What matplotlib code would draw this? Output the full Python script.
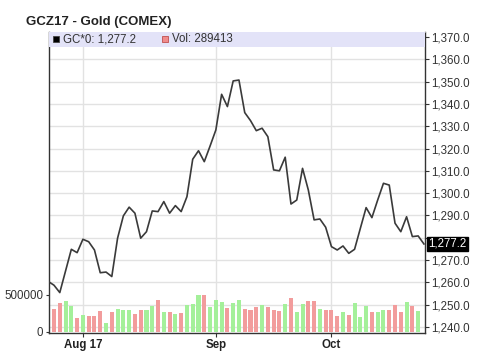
import numpy as np
import pandas as pd
import matplotlib
matplotlib.use("Agg")
import matplotlib.pyplot as plt
from matplotlib.patches import Rectangle
from matplotlib.ticker import FixedLocator, FixedFormatter

plt.rcParams['font.family'] = ['Liberation Sans', 'DejaVu Sans']

# ---------------- data ----------------
title = "GCZ17 - Gold (COMEX)"
symbol = "GC*0"
last_volume = 289413

# trading days (Labor Day closed)
days = pd.bdate_range("2017-07-24", "2017-10-24", freq="C", holidays=["2017-09-04"])

prices = [1260.4, 1258.7, 1255.4, 1265.1, 1274.8, 1273.3, 1279.3, 1278.2, 1274.5, 1264.3,
          1264.6, 1262.6, 1279.8, 1289.8, 1293.7, 1291.0, 1279.8, 1282.7, 1292.0, 1291.7,
          1296.2, 1291.0, 1294.4, 1291.7, 1298.4, 1315.2, 1319.0, 1314.1, 1321.1, 1328.3,
          1344.3, 1338.8, 1350.3, 1350.7, 1336.1, 1332.5, 1328.0, 1329.1, 1325.3, 1310.4,
          1310.0, 1316.1, 1295.1, 1296.9, 1311.1, 1301.4, 1288.0, 1288.4, 1284.7, 1276.0,
          1274.5, 1276.3, 1273.0, 1274.8, 1284.2, 1293.5, 1289.0, 1296.9, 1304.4, 1303.6,
          1286.5, 1282.7, 1289.4, 1280.5, 1280.8, 1277.2]

# volume for days[1] .. days[64]
volume_k = [309, 386, 414, 355, 186, 232, 218, 218, 286, 123,
            264, 314, 291, 291, 245, 300, 300, 355, 432, 268,
            268, 241, 259, 368, 373, 500, 505, 332, 427, 405,
            323, 391, 427, 314, 300, 332, 359, 332, 291, 286,
            377, 459, 268, 377, 423, 414, 305, 295, 295, 218,
            268, 232, 386, 195, 345, 268, 268, 300, 291, 359,
            268, 405, 345, 286]

month_labels = ["Aug 17", "Sep", "Oct"]
month_starts = ["2017-08-01", "2017-09-01", "2017-10-02"]

price_ticks = list(range(1240, 1371, 10))
volume_ticks = [0, 500000]

# ---------------- derived ----------------
x_price = np.arange(len(prices))
x_vol = np.arange(1, len(volume_k) + 1)
volume = np.array(volume_k) * 1000.0
up = np.array(prices)[x_vol] > np.array(prices)[x_vol - 1]
GREEN = '#a4f09a'
RED = '#f29c9c'
bar_colors = [GREEN if u else RED for u in up]
tick_pos = [int(days.get_indexer([pd.Timestamp(d)])[0]) for d in month_starts]

# ---------------- figure ----------------
fig = plt.figure(figsize=(5.0, 3.58), dpi=100)
W, H = 500.0, 358.0
L, R, T, B = 49.0, 424.5, 32.0, 332.5
rect = [L / W, 1 - B / H, (R - L) / W, (B - T) / H]

ax_bg = fig.add_axes(rect, zorder=0)
ax_v = fig.add_axes(rect, zorder=1, sharex=ax_bg)
ax_l = fig.add_axes(rect, zorder=2, sharex=ax_bg, sharey=ax_bg)

xlim = (0.135, 65.1)
ax_bg.set_xlim(*xlim)
ax_bg.set_ylim(1237.5, 1372.24)

# background axes: grid, price ticks on right, month ticks
ax_bg.set_facecolor('white')
ax_bg.yaxis.tick_right()
ax_bg.yaxis.set_major_locator(FixedLocator(price_ticks))
last = prices[-1]
ax_bg.yaxis.set_major_formatter(FixedFormatter(
    ['' if abs(v - last) < 5 else f"{v:,.1f}" for v in price_ticks]))
ax_bg.xaxis.set_major_locator(FixedLocator(tick_pos))
ax_bg.xaxis.set_major_formatter(FixedFormatter(month_labels))
ax_bg.grid(True, color='#e2e2e2', lw=1.0)
ax_bg.set_axisbelow(True)
ax_bg.tick_params(axis='y', which='major', direction='out', length=3, width=0.8,
                  color='#333333', labelsize=8.3, labelcolor='#333333', pad=2)
ax_bg.tick_params(axis='x', which='major', direction='out', length=3, width=0.8,
                  color='#333333', labelsize=8.3, labelcolor='#222222', pad=1.5)
for lab in ax_bg.get_xticklabels():
    lab.set_fontweight('bold')
for side in ['left', 'right', 'bottom']:
    ax_bg.spines[side].set_color('#333333')
    ax_bg.spines[side].set_linewidth(1.0)
ax_bg.spines['top'].set_color('#bbbbbb')
ax_bg.spines['top'].set_linewidth(0.6)

# volume axes
ax_v.patch.set_visible(False)
ax_v.bar(x_vol, volume, width=0.7, color=bar_colors, linewidth=0)
ax_v.set_ylim(-11000, 4083000)
ax_v.yaxis.tick_left()
ax_v.yaxis.set_major_locator(FixedLocator(volume_ticks))
ax_v.yaxis.set_major_formatter(FixedFormatter([f"{v:d}" for v in volume_ticks]))
ax_v.tick_params(axis='y', length=2, width=0.8, color='#333333', labelsize=8.3,
                 labelcolor='#333333', pad=2)
ax_v.tick_params(axis='x', bottom=False, labelbottom=False)
for s in ax_v.spines.values():
    s.set_visible(False)

# price line axes
ax_l.patch.set_visible(False)
ax_l.plot(x_price, prices, color='#3a3a3a', lw=1.2, solid_joinstyle='round')
ax_l.axis('off')
ax_l.set_xlim(*xlim)

# header legend band
band_h = 14.5 / (B - T)
ax_l.add_patch(Rectangle((0, 1 - band_h), 1, band_h, transform=ax_l.transAxes,
                         facecolor='#e3e3f8', edgecolor='none', clip_on=False))
yc = 1 - band_h / 2
ax_l.plot([0.018], [yc], marker='s', ms=4.2, mfc='black', mec='#444444', mew=0.6,
          transform=ax_l.transAxes, clip_on=False)
ax_l.text(0.036, yc, f"{symbol}: {last:,.1f}", transform=ax_l.transAxes,
          va='center', ha='left', fontsize=8.3, color='#333333')
ax_l.plot([0.31], [yc], marker='s', ms=4.2, mfc='#f08c8c', mec='#c05050', mew=0.6,
          transform=ax_l.transAxes, clip_on=False)
ax_l.text(0.328, yc, f"Vol: {last_volume}", transform=ax_l.transAxes,
          va='center', ha='left', fontsize=8.3, color='#333333')

# current price marker on right axis
ax_bg.annotate(f"{last:,.1f}", xy=(1, last), xycoords=('axes fraction', 'data'),
               xytext=(3, 0), textcoords='offset points', va='center', ha='left',
               fontsize=8.3, color='white',
               bbox=dict(boxstyle='square,pad=0.12', fc='black', ec='black'))

# title
fig.text(26 / W, 1 - 22 / H, title, fontsize=9.5, fontweight='bold',
         color='#222222', ha='left', va='center')

fig.savefig("out.png", dpi=100)
